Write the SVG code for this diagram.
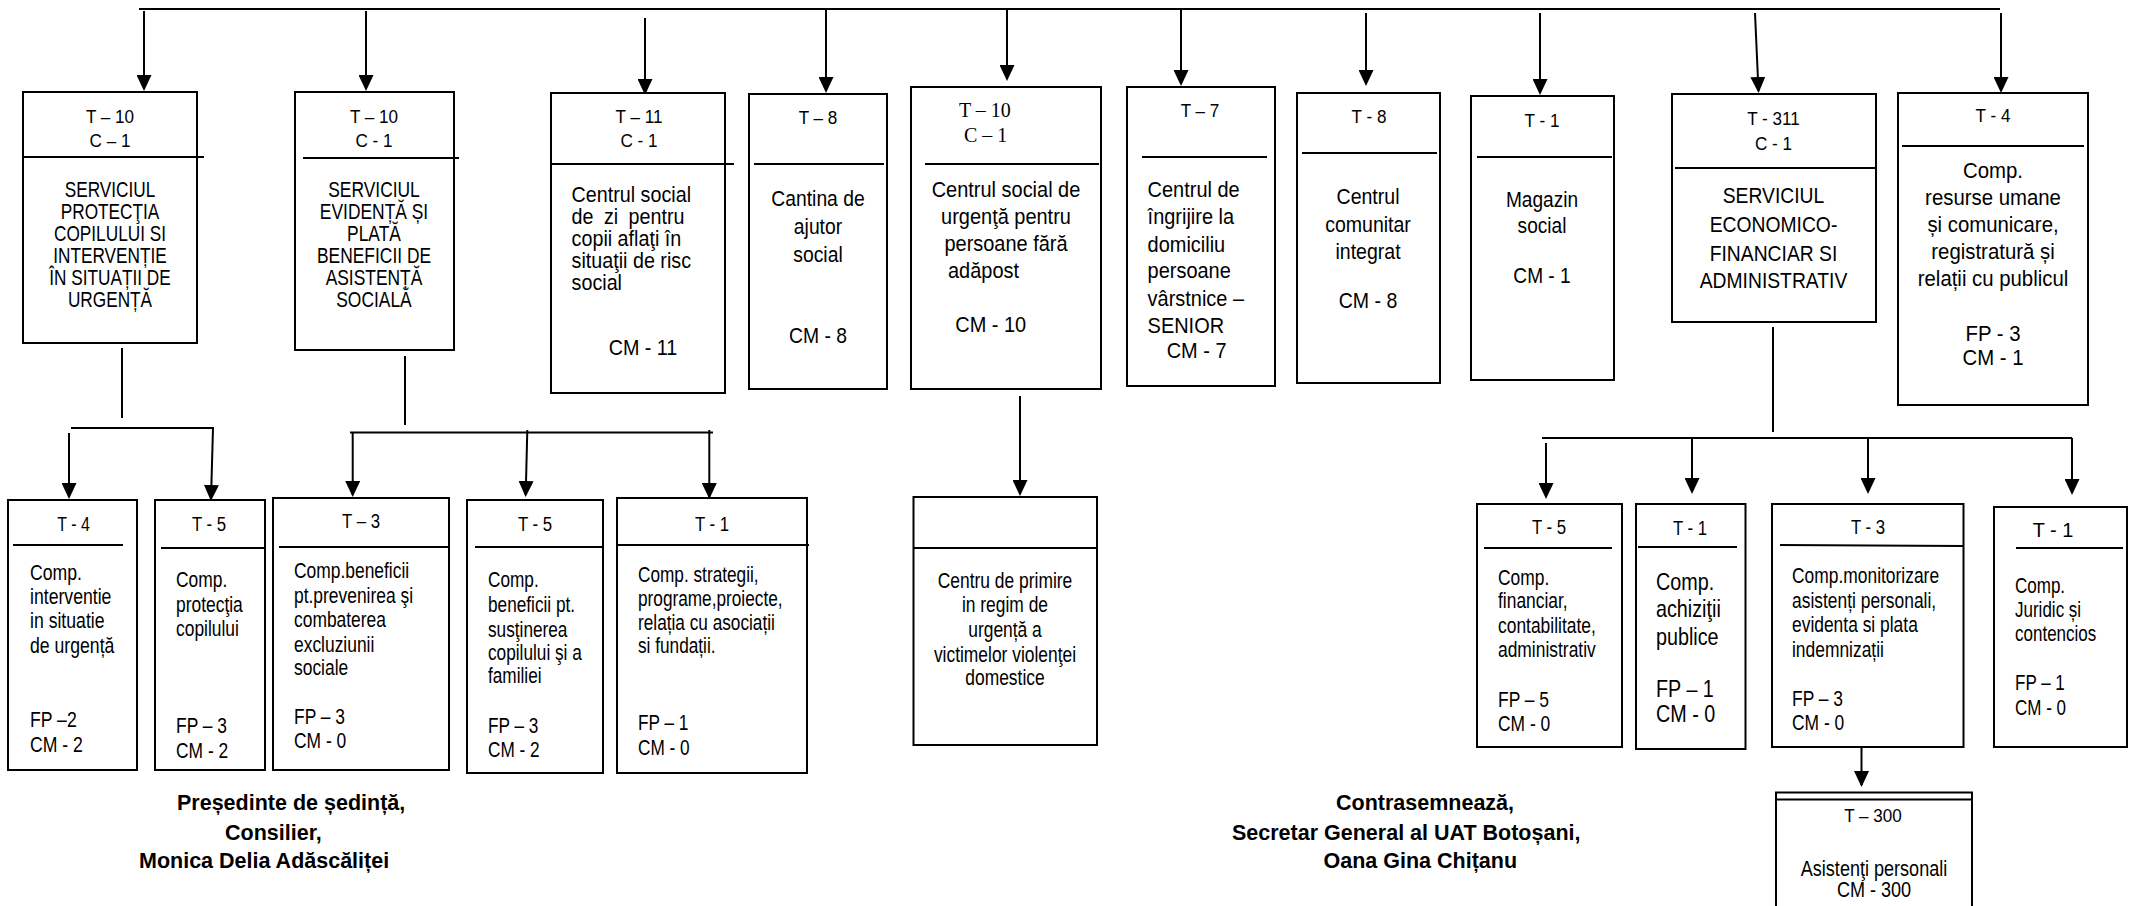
<svg xmlns="http://www.w3.org/2000/svg" width="2132" height="906" viewBox="0 0 2132 906">
<style>
.box{fill:#fff;stroke:#000;stroke-width:2}
.sep{stroke:#000;stroke-width:2}
.c{stroke:#000;stroke-width:2;fill:none}
.a{stroke:#000;stroke-width:2;fill:none;marker-end:url(#ah)}
text{fill:#000;font-family:"Liberation Sans",Arial,sans-serif}
.t{font-size:22px}
.h{font-size:19px}
.h2{font-size:21px}
.s{font-family:"Liberation Serif","Times New Roman",serif;font-size:20px}
.b{font-size:21.5px;font-weight:bold}
.m{text-anchor:middle}
</style>
<defs>
<marker id="ah" markerWidth="16" markerHeight="15" refX="14" refY="7.5" orient="auto" markerUnits="userSpaceOnUse"><path d="M0,0 L16,7.5 L0,15 z" fill="#000"/></marker>
</defs>
<rect width="2132" height="906" fill="#fff"/>
<g id="connectors">
<line class="c" x1="139" y1="9" x2="2000" y2="9"/>
<line class="a" x1="144" y1="11" x2="144" y2="89"/>
<line class="a" x1="366" y1="11" x2="366" y2="89"/>
<line class="a" x1="645" y1="18" x2="645" y2="93"/>
<line class="a" x1="826" y1="10" x2="826" y2="91"/>
<line class="a" x1="1007" y1="9" x2="1007" y2="79"/>
<line class="a" x1="1181" y1="9" x2="1181" y2="84"/>
<line class="a" x1="1366" y1="13" x2="1366" y2="84"/>
<line class="a" x1="1540" y1="13" x2="1540" y2="93"/>
<line class="a" x1="1755" y1="13" x2="1758.5" y2="91"/>
<line class="a" x1="2001" y1="13" x2="2001" y2="91"/>
<line class="c" x1="122" y1="348" x2="122" y2="418"/>
<line class="c" x1="71" y1="428" x2="214" y2="428"/>
<line class="a" x1="69" y1="433" x2="69" y2="497"/>
<line class="a" x1="213" y1="428" x2="211" y2="499"/>
<line class="c" x1="405" y1="356" x2="405" y2="425"/>
<line class="c" x1="350" y1="432.5" x2="713" y2="432.5"/>
<line class="a" x1="352.7" y1="432" x2="352.7" y2="495"/>
<line class="a" x1="527.3" y1="430" x2="525.7" y2="495"/>
<line class="a" x1="709.3" y1="430" x2="709.3" y2="497"/>
<line class="a" x1="1020" y1="396" x2="1020" y2="494"/>
<line class="c" x1="1773" y1="327" x2="1773" y2="432"/>
<line class="c" x1="1542" y1="438" x2="2072" y2="438"/>
<line class="a" x1="1546" y1="443" x2="1546" y2="497"/>
<line class="a" x1="1692" y1="438" x2="1692" y2="492"/>
<line class="a" x1="1868" y1="438" x2="1868" y2="492"/>
<line class="a" x1="2072" y1="438" x2="2072" y2="493"/>
<line class="a" x1="1861.5" y1="747" x2="1861.5" y2="785"/>
</g>
<g id="n-protectia">
<rect class="box" x="23" y="92" width="174" height="251"/>
<line class="sep" x1="23" y1="157" x2="204" y2="157"/>
<text class="h m" transform="matrix(0.9 0 0 1 110 0)"><tspan x="0" y="123">T – 10</tspan><tspan x="0" y="147">C – 1</tspan></text>
<text class="t m" transform="matrix(0.783 0 0 1 110 0)"><tspan x="0" y="197">SERVICIUL</tspan><tspan x="0" y="219">PROTECŢIA</tspan><tspan x="0" y="241">COPILULUI SI</tspan><tspan x="0" y="263">INTERVENȚIE</tspan><tspan x="0" y="285">ÎN SITUAȚII DE</tspan><tspan x="0" y="307">URGENȚĂ</tspan></text>
</g>
<g id="n-evidenta">
<rect class="box" x="295" y="92" width="159" height="258"/>
<line class="sep" x1="303" y1="158" x2="459" y2="158"/>
<text class="h m" transform="matrix(0.9 0 0 1 374 0)"><tspan x="0" y="123">T – 10</tspan><tspan x="0" y="147">C - 1</tspan></text>
<text class="t m" transform="matrix(0.792 0 0 1 374 0)"><tspan x="0" y="197">SERVICIUL</tspan><tspan x="0" y="219">EVIDENȚĂ ȘI</tspan><tspan x="0" y="241">PLATĂ</tspan><tspan x="0" y="263">BENEFICII DE</tspan><tspan x="0" y="285">ASISTENȚĂ</tspan><tspan x="0" y="307">SOCIALĂ</tspan></text>
</g>
<g id="n-centru-zi">
<rect class="box" x="551" y="93" width="174" height="300"/>
<line class="sep" x1="551" y1="164" x2="734" y2="164"/>
<text class="h m" transform="matrix(0.9 0 0 1 639 0)"><tspan x="0" y="123">T – 11</tspan><tspan x="0" y="147">C - 1</tspan></text>
<text class="t" transform="matrix(0.897 0 0 1 571.6 0)"><tspan x="0" y="202">Centrul social</tspan><tspan x="0" y="224" word-spacing="5.5">de zi pentru</tspan><tspan x="0" y="246">copii aflaţi în</tspan><tspan x="0" y="268">situaţii de risc</tspan><tspan x="0" y="290">social</tspan></text>
<text class="t m" transform="matrix(0.897 0 0 1 643 0)"><tspan x="0" y="355">CM - 11</tspan></text>
</g>
<g id="n-cantina">
<rect class="box" x="749" y="94" width="138" height="295"/>
<line class="sep" x1="754" y1="164" x2="884" y2="164"/>
<text class="h m" transform="matrix(0.9 0 0 1 818 0)"><tspan x="0" y="124">T –  8</tspan></text>
<text class="t m" transform="matrix(0.878 0 0 1 818 0)"><tspan x="0" y="206">Cantina de</tspan><tspan x="0" y="234">ajutor</tspan><tspan x="0" y="262">social</tspan><tspan x="0" y="343">CM - 8</tspan></text>
</g>
<g id="n-adapost">
<rect class="box" x="911" y="87" width="190" height="302"/>
<line class="sep" x1="925" y1="164" x2="1099" y2="164"/>
<text class="s"><tspan x="959" y="117">T – 10</tspan><tspan x="964" y="142">C – 1</tspan></text>
<text class="t m" transform="matrix(0.907 0 0 1 1006 0)"><tspan x="0" y="197">Centrul social de</tspan><tspan x="0" y="224">urgenţă pentru</tspan><tspan x="0" y="251">persoane fără</tspan></text>
<text class="t" transform="matrix(0.907 0 0 1 948 0)"><tspan x="0" y="278">adăpost</tspan><tspan x="8" y="332">CM - 10</tspan></text>
</g>
<g id="n-senior">
<rect class="box" x="1127" y="87" width="148" height="299"/>
<line class="sep" x1="1142" y1="157" x2="1267" y2="157"/>
<text class="h m" transform="matrix(0.9 0 0 1 1200 0)"><tspan x="0" y="117">T – 7</tspan></text>
<text class="t" transform="matrix(0.907 0 0 1 1147.6 0)"><tspan x="0" y="197">Centrul de</tspan><tspan x="0" y="224">îngrijire la</tspan><tspan x="0" y="252">domiciliu</tspan><tspan x="0" y="278">persoane</tspan><tspan x="0" y="306">vârstnice –</tspan><tspan x="0" y="333">SENIOR</tspan><tspan x="21" y="358">CM - 7</tspan></text>
</g>
<g id="n-comunitar">
<rect class="box" x="1297" y="93" width="143" height="290"/>
<line class="sep" x1="1302" y1="153" x2="1437" y2="153"/>
<text class="h m" transform="matrix(0.9 0 0 1 1369 0)"><tspan x="0" y="123">T - 8</tspan></text>
<text class="t m" transform="matrix(0.888 0 0 1 1368 0)"><tspan x="0" y="204">Centrul</tspan><tspan x="0" y="232">comunitar</tspan><tspan x="0" y="259">integrat</tspan><tspan x="0" y="308">CM - 8</tspan></text>
</g>
<g id="n-magazin">
<rect class="box" x="1471" y="96" width="143" height="284"/>
<line class="sep" x1="1477" y1="157" x2="1612" y2="157"/>
<text class="h m" transform="matrix(0.9 0 0 1 1542 0)"><tspan x="0" y="127">T - 1</tspan></text>
<text class="t m" transform="matrix(0.869 0 0 1 1542 0)"><tspan x="0" y="207">Magazin</tspan><tspan x="0" y="233">social</tspan><tspan x="0" y="283">CM - 1</tspan></text>
</g>
<g id="n-economic">
<rect class="box" x="1672" y="94" width="204" height="228"/>
<line class="sep" x1="1675" y1="168" x2="1875" y2="168"/>
<text class="h m" transform="matrix(0.9 0 0 1 1773.5 0)"><tspan x="0" y="125">T - 311</tspan><tspan x="0" y="150">C - 1</tspan></text>
<text class="t m" transform="matrix(0.878 0 0 1 1773.5 0)"><tspan x="0" y="203">SERVICIUL</tspan><tspan x="0" y="232">ECONOMICO-</tspan><tspan x="0" y="261">FINANCIAR SI</tspan><tspan x="0" y="288">ADMINISTRATIV</tspan></text>
</g>
<g id="n-resurse">
<rect class="box" x="1898" y="93" width="190" height="312"/>
<line class="sep" x1="1902" y1="146" x2="2084" y2="146"/>
<text class="h m" transform="matrix(0.9 0 0 1 1993 0)"><tspan x="0" y="122">T - 4</tspan></text>
<text class="t m" transform="matrix(0.926 0 0 1 1993 0)"><tspan x="0" y="178">Comp.</tspan><tspan x="0" y="205">resurse umane</tspan><tspan x="0" y="232">și comunicare,</tspan><tspan x="0" y="259">registratură și</tspan><tspan x="0" y="286">relații cu publicul</tspan><tspan x="0" y="341">FP - 3</tspan><tspan x="0" y="365">CM - 1</tspan></text>
</g>
<g id="n-interventie">
<rect class="box" x="8" y="500" width="129" height="270"/>
<line class="sep" x1="13" y1="545" x2="123" y2="545"/>
<text class="h2 m" transform="matrix(0.76 0 0 1 73.5 0)"><tspan x="0" y="531">T - 4</tspan></text>
<text class="t" transform="matrix(0.802 0 0 1 30 0)"><tspan x="0" y="580">Comp.</tspan><tspan x="0" y="604">interventie</tspan><tspan x="0" y="628">in situatie</tspan><tspan x="0" y="653">de urgență</tspan><tspan x="0" y="727">FP –2</tspan><tspan x="0" y="752">CM - 2</tspan></text>
</g>
<g id="n-protectie-copil">
<rect class="box" x="155" y="500" width="110" height="270"/>
<line class="sep" x1="161" y1="548" x2="266" y2="548"/>
<text class="h2 m" transform="matrix(0.8 0 0 1 209 0)"><tspan x="0" y="531">T - 5</tspan></text>
<text class="t" transform="matrix(0.792 0 0 1 176 0)"><tspan x="0" y="587">Comp.</tspan><tspan x="0" y="612">protecţia</tspan><tspan x="0" y="636">copilului</tspan><tspan x="0" y="733">FP – 3</tspan><tspan x="0" y="758">CM - 2</tspan></text>
</g>
<g id="n-excluziune">
<rect class="box" x="273" y="498" width="176" height="272"/>
<line class="sep" x1="279" y1="547" x2="450" y2="547"/>
<text class="h2 m" transform="matrix(0.8 0 0 1 361 0)"><tspan x="0" y="528">T – 3</tspan></text>
<text class="t" transform="matrix(0.792 0 0 1 294 0)"><tspan x="0" y="578">Comp.beneficii</tspan><tspan x="0" y="603">pt.prevenirea şi</tspan><tspan x="0" y="627">combaterea</tspan><tspan x="0" y="652">excluziunii</tspan><tspan x="0" y="675">sociale</tspan><tspan x="0" y="724">FP – 3</tspan><tspan x="0" y="748">CM - 0</tspan></text>
</g>
<g id="n-familie">
<rect class="box" x="467" y="500" width="136" height="273"/>
<line class="sep" x1="475" y1="547" x2="603" y2="547"/>
<text class="h2 m" transform="matrix(0.8 0 0 1 535 0)"><tspan x="0" y="531">T - 5</tspan></text>
<text class="t" transform="matrix(0.783 0 0 1 488 0)"><tspan x="0" y="587">Comp.</tspan><tspan x="0" y="612">beneficii pt.</tspan><tspan x="0" y="637">susţinerea</tspan><tspan x="0" y="660">copilului şi a</tspan><tspan x="0" y="683">familiei</tspan><tspan x="0" y="733">FP – 3</tspan><tspan x="0" y="757">CM - 2</tspan></text>
</g>
<g id="n-strategii">
<rect class="box" x="617" y="498" width="190" height="275"/>
<line class="sep" x1="617" y1="545" x2="809" y2="545"/>
<text class="h2 m" transform="matrix(0.8 0 0 1 712 0)"><tspan x="0" y="531">T - 1</tspan></text>
<text class="t" transform="matrix(0.783 0 0 1 638 0)"><tspan x="0" y="582">Comp. strategii,</tspan><tspan x="0" y="606">programe,proiecte,</tspan><tspan x="0" y="630">relația cu asociații</tspan><tspan x="0" y="653">si fundații.</tspan><tspan x="0" y="730">FP – 1</tspan><tspan x="0" y="755">CM - 0</tspan></text>
</g>
<g id="n-primire">
<rect class="box" x="913.5" y="497" width="183.5" height="248"/>
<line class="sep" x1="913.5" y1="548" x2="1097" y2="548"/>
<text class="t m" transform="matrix(0.792 0 0 1 1005 0)"><tspan x="0" y="588">Centru de primire</tspan><tspan x="0" y="612">in regim de</tspan><tspan x="0" y="637">urgență a</tspan><tspan x="0" y="662">victimelor violenţei</tspan><tspan x="0" y="685">domestice</tspan></text>
</g>
<g id="n-financiar">
<rect class="box" x="1477" y="504" width="145" height="243"/>
<line class="sep" x1="1484" y1="548" x2="1612" y2="548"/>
<text class="h2 m" transform="matrix(0.8 0 0 1 1549 0)"><tspan x="0" y="534">T - 5</tspan></text>
<text class="t" transform="matrix(0.792 0 0 1 1498 0)"><tspan x="0" y="585">Comp.</tspan><tspan x="0" y="608">financiar,</tspan><tspan x="0" y="633">contabilitate,</tspan><tspan x="0" y="657">administrativ</tspan><tspan x="0" y="707">FP – 5</tspan><tspan x="0" y="731">CM - 0</tspan></text>
</g>
<g id="n-achizitii">
<rect class="box" x="1636" y="504" width="109.5" height="245"/>
<line class="sep" x1="1638" y1="547" x2="1737" y2="547"/>
<text class="h2 m" transform="matrix(0.8 0 0 1 1690 0)"><tspan x="0" y="535">T - 1</tspan></text>
<text class="t" style="font-size:24px" transform="matrix(0.824 0 0 1 1656 0)"><tspan x="0" y="590">Comp.</tspan><tspan x="0" y="617">achiziţii</tspan><tspan x="0" y="645">publice</tspan><tspan x="0" y="697">FP – 1</tspan><tspan x="0" y="722">CM - 0</tspan></text>
</g>
<g id="n-monitorizare">
<rect class="box" x="1772" y="504" width="191.5" height="243"/>
<line class="sep" x1="1780" y1="545" x2="1963" y2="546"/>
<text class="h2 m" transform="matrix(0.8 0 0 1 1868 0)"><tspan x="0" y="534">T - 3</tspan></text>
<text class="t" transform="matrix(0.792 0 0 1 1792 0)"><tspan x="0" y="583">Comp.monitorizare</tspan><tspan x="0" y="608">asistenți personali,</tspan><tspan x="0" y="632">evidenta si plata</tspan><tspan x="0" y="657">indemnizații</tspan><tspan x="0" y="706">FP – 3</tspan><tspan x="0" y="730">CM - 0</tspan></text>
</g>
<g id="n-juridic">
<rect class="box" x="1994" y="507" width="133" height="240"/>
<line class="sep" x1="2016" y1="548" x2="2123" y2="548"/>
<text class="h2 m" transform="matrix(0.95 0 0 1 2053 0)"><tspan x="0" y="537">T - 1</tspan></text>
<text class="t" transform="matrix(0.773 0 0 1 2015 0)"><tspan x="0" y="593">Comp.</tspan><tspan x="0" y="617">Juridic și</tspan><tspan x="0" y="641">contencios</tspan><tspan x="0" y="690">FP – 1</tspan><tspan x="0" y="715">CM - 0</tspan></text>
</g>
<g id="n-asistenti">
<rect class="box" x="1776" y="792.5" width="196" height="130"/>
<line class="sep" x1="1776" y1="799.5" x2="1972" y2="799.5"/>
<text class="h m" transform="matrix(0.9 0 0 1 1873 0)"><tspan x="0" y="822">T – 300</tspan></text>
<text class="t m" transform="matrix(0.821 0 0 1 1874 0)"><tspan x="0" y="876">Asistenţi personali</tspan><tspan x="0" y="897">CM - 300</tspan></text>
</g>
<g id="signature-left">
<text class="b"><tspan x="177" y="810">Președinte de ședință,</tspan><tspan x="225" y="840">Consilier,</tspan><tspan x="139" y="868">Monica Delia Adăscăliței</tspan></text>
</g>
<g id="signature-right">
<text class="b"><tspan x="1336" y="810">Contrasemnează,</tspan><tspan x="1232" y="840">Secretar General al UAT Botoșani,</tspan><tspan x="1323.5" y="868">Oana Gina Chițanu</tspan></text>
</g>
</svg>
